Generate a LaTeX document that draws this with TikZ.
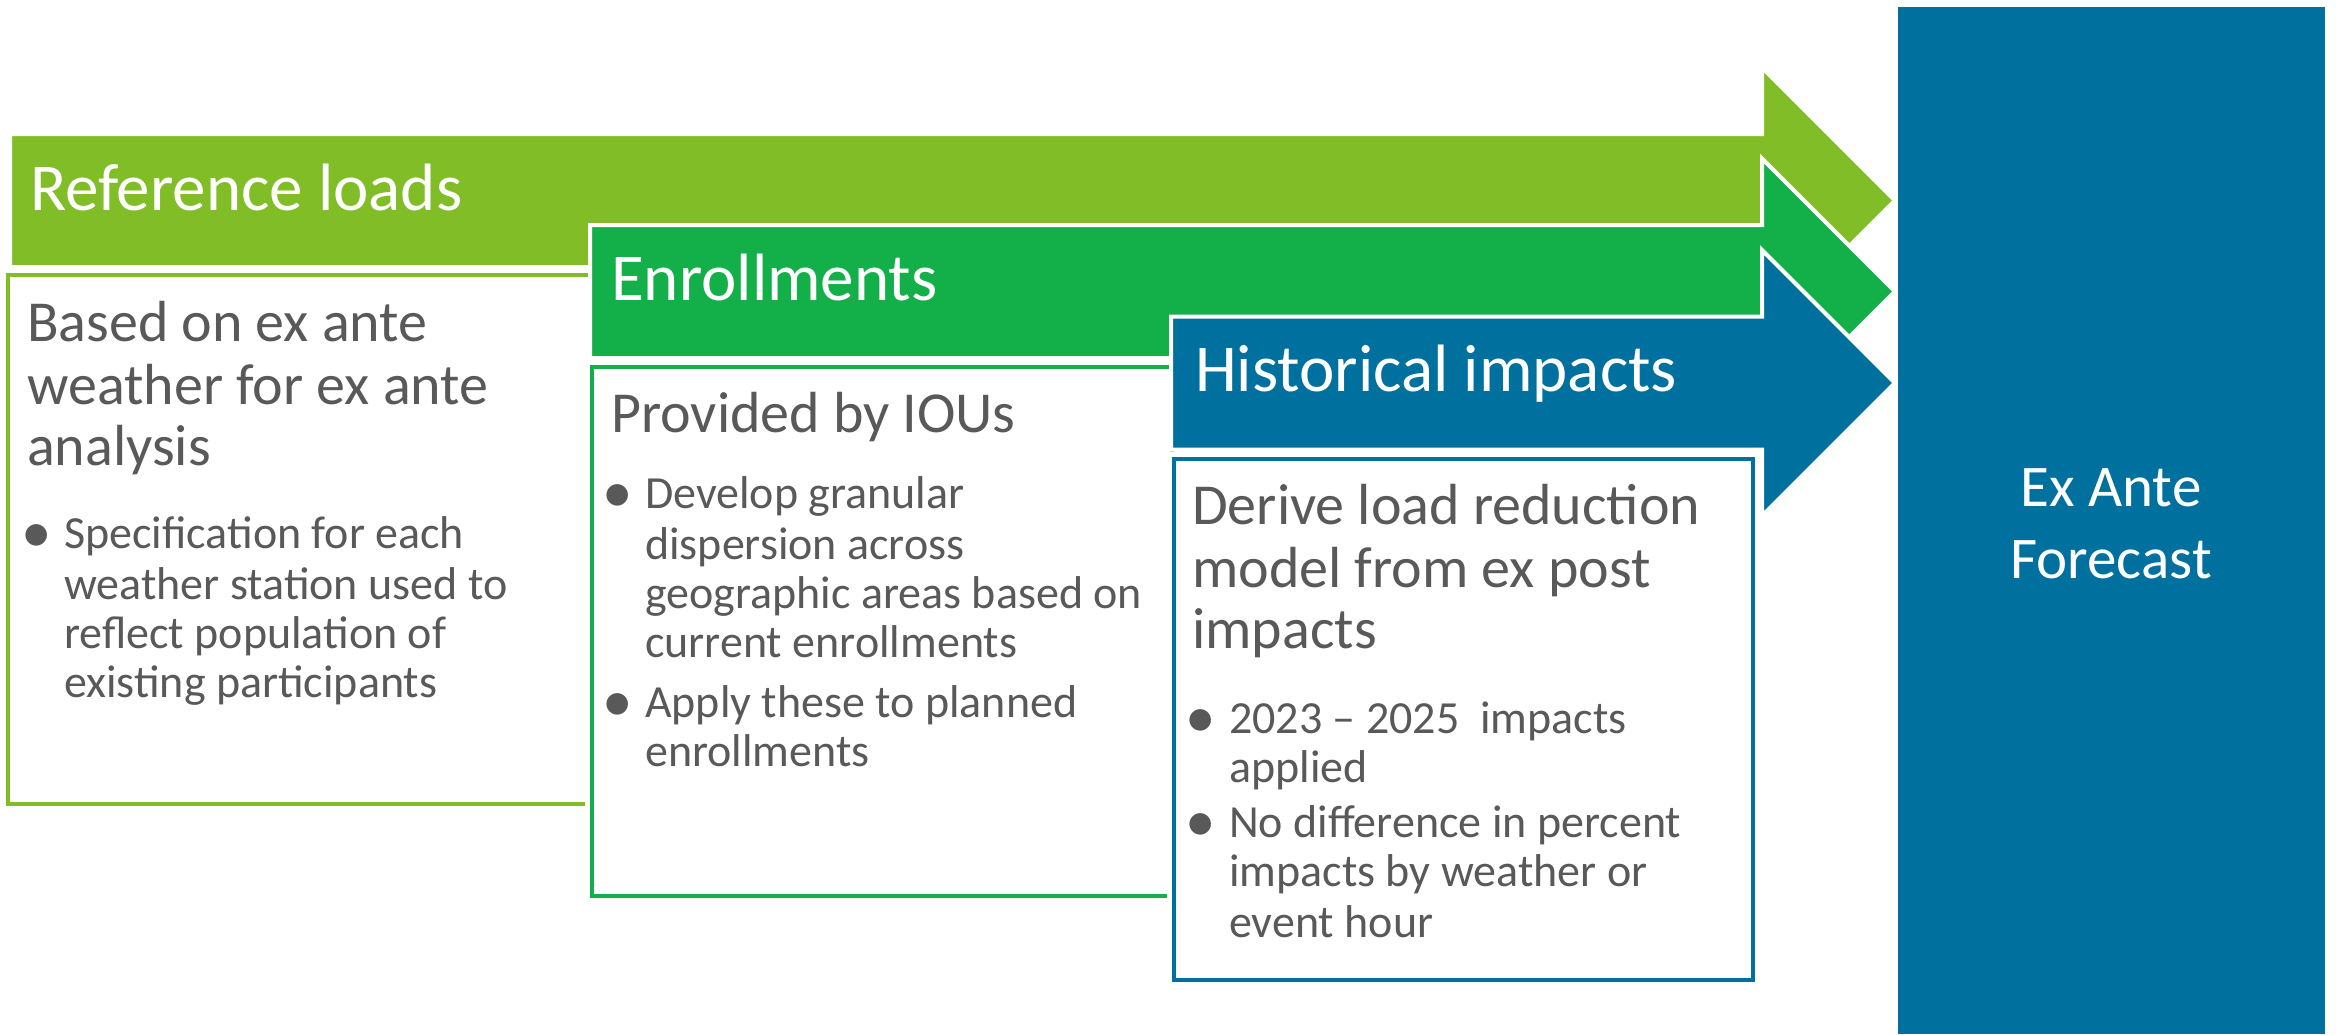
\documentclass[tikz,border=0pt]{standalone}
\usepackage{fontspec}
\setmainfont{Carlito}
\definecolor{lgreen}{RGB}{128,189,38}
\definecolor{mgreen}{RGB}{19,176,74}
\definecolor{dblue}{RGB}{0,112,158}
\definecolor{txtgray}{RGB}{89,89,89}
\begin{document}
\begin{tikzpicture}[x=1pt,y=-1pt,
  arrowshape/.style={line width=4pt, draw=white, line join=miter},
  boxwhite/.style={draw=white, line width=10pt},
  headtxt/.style={anchor=base west, inner sep=0pt, text=white, font=\fontsize{67}{70}\selectfont},
  subtxt/.style={anchor=base west, inner sep=0pt, text=txtgray, font=\fontsize{58}{62}\selectfont},
  bultxt/.style={anchor=base west, inner sep=0pt, text=txtgray, font=\fontsize{46}{50}\selectfont},
  bulmark/.style={anchor=base west, inner sep=0pt, text=txtgray, font=\fontsize{61}{64}\selectfont},
  bigtxt/.style={anchor=base, inner sep=0pt, text=white, font=\fontsize{59}{62}\selectfont}]
\useasboundingbox[fill=white] (0,0) rectangle (2336,1034);

% Ex Ante forecast box
\fill[dblue] (1898,7) rectangle (2325,1034);
\node[bigtxt] (ea1) at (2111,506) {Ex Ante};
\node[bigtxt] (ea2) at (2111,578) {Forecast};

% Arrow 1: reference loads
\fill[lgreen, arrowshape] (10,134) -- (1762,134) -- (1762,67.5) -- (1895,200.5) -- (1762,333.5) -- (1762,267) -- (10,267) -- cycle;
% Box 1
\draw[boxwhite] (6,273) rectangle (590,806);
\draw[lgreen, line width=4pt] (8,275) rectangle (590,804);
\node[headtxt] (h1) at (30,210) {Reference loads};
\node[subtxt] (b1a) at (27,341) {Based on ex ante};
\node[subtxt] (b1b) at (27,404) {weather for ex ante};
\node[subtxt] (b1c) at (27,465) {analysis};
\node[bulmark] (b1d0) at (21,552) {•};
\node[bultxt] (b1d) at (64,548) {Specification for each};
\node[bultxt] (b1e) at (64,599) {weather station used to};
\node[bultxt] (b1f) at (64,648) {reflect population of};
\node[bultxt] (b1g) at (64,697) {existing participants};

% Arrow 2: enrollments
\fill[mgreen, arrowshape] (590,225) -- (1762,225) -- (1762,158.5) -- (1895,291.5) -- (1762,424.5) -- (1762,358) -- (590,358) -- cycle;
% Box 2
\draw[boxwhite] (590,365) rectangle (1172,898);
\draw[mgreen, line width=4pt] (592,367) rectangle (1172,896);
\node[headtxt] (h2) at (611,300) {Enrollments};
\node[subtxt] (b2a) at (611,432) {Provided by IOUs};
\node[bulmark] (b2b0) at (602,512) {•};
\node[bultxt] (b2b) at (645,508) {Develop granular};
\node[bultxt] (b2c) at (645,559) {dispersion across};
\node[bultxt] (b2d) at (645,608) {geographic areas based on};
\node[bultxt] (b2e) at (645,657) {current enrollments};
\node[bulmark] (b2f0) at (602,721) {•};
\node[bultxt] (b2f) at (645,717) {Apply these to planned};
\node[bultxt] (b2g) at (645,766) {enrollments};

% Arrow 3: historical impacts
\fill[dblue, arrowshape] (1171,316.5) -- (1762,316.5) -- (1762,250) -- (1895,383) -- (1762,516) -- (1762,449.5) -- (1171,449.5) -- cycle;
% Box 3
\draw[boxwhite] (1172,457) rectangle (1755,982);
\draw[dblue, line width=4pt] (1174,459) rectangle (1753,980);
\node[headtxt] (h3) at (1195,391) {Historical impacts};
\node[subtxt] (b3a) at (1192,524) {Derive load reduction};
\node[subtxt] (b3b) at (1192,587) {model from ex post};
\node[subtxt] (b3c) at (1192,648) {impacts};
\node[bulmark] (b3d0) at (1185,737) {•};
\node[bultxt] (b3d) at (1229,733) {2023 – 2025~ impacts};
\node[bultxt] (b3e) at (1229,782) {applied};
\node[bulmark] (b3f0) at (1185,841) {•};
\node[bultxt] (b3f) at (1229,837) {No difference in percent};
\node[bultxt] (b3g) at (1229,886) {impacts by weather or};
\node[bultxt] (b3h) at (1229,937) {event hour};
\end{tikzpicture}
\end{document}
